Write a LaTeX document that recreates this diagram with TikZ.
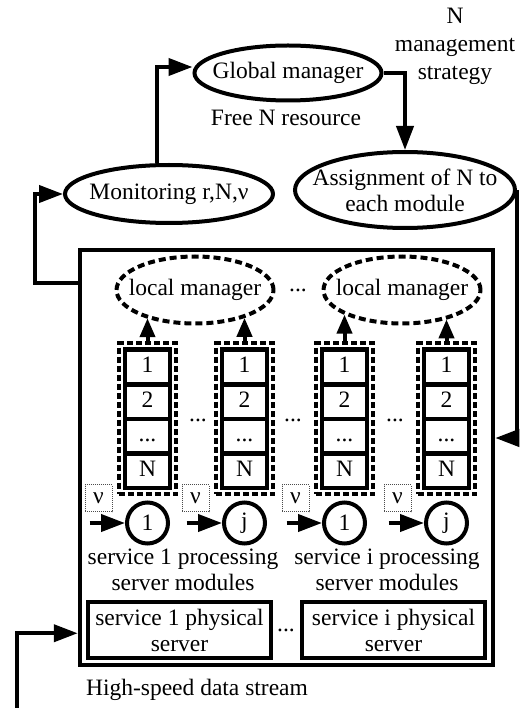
\documentclass[tikz,border=0pt]{standalone}
\usepackage{fontspec}
\setmainfont{Liberation Serif}
\usetikzlibrary{arrows.meta, positioning, shapes.geometric, fit}

\tikzset{
    manager/.style={ellipse, draw, line width=4pt, inner sep=-15pt, align=center},
    localmgr/.style={ellipse, draw, line width=4pt, dash pattern=on 7pt off 4pt,
        inner sep=-15pt, minimum width=157pt, minimum height=67pt},
    cell/.style={draw, line width=4.5pt, minimum width=45pt, minimum height=34.6pt,
        inner sep=0pt, text height=16pt, text depth=5pt},
    queue/.style={draw, line width=4pt, dash pattern=on 6pt off 3pt, inner sep=4pt},
    rate/.style={draw=black!70, densely dotted, line width=1pt, minimum size=27pt, inner sep=0pt},
    module/.style={circle, draw, line width=4pt, minimum size=41pt, inner sep=0pt},
    server/.style={draw, line width=4.5pt, minimum width=183pt, minimum height=56pt,
        align=center, inner sep=0pt},
    flow/.style={line width=4pt, -{Triangle[length=24pt,width=17pt]}},
    upflow/.style={line width=4pt, -{Triangle[length=19pt,width=15pt]}},
}

\begin{document}
\begin{tikzpicture}[x=1pt, y=-1pt, font=\fontsize{23.5}{26}\selectfont]
    \useasboundingbox (0,0) rectangle (521,708);

    % --- managers ---
    \node[manager, minimum width=187pt, minimum height=55pt] (global) at (288,73) {Global manager};
    \node[manager, minimum width=208pt, minimum height=58pt] (monitor) at (169,194) {Monitoring r,N,ν};
    \node[manager, minimum width=220pt, minimum height=76pt] (assign) at (405,190)
        {Assignment of N to\\each module};

    \node[align=center, font=\fontsize{23.5}{28}\selectfont] (strategy) at (455,46) {N\\management\\strategy};
    \node (free) at (286,118) {Free N resource};

    % --- system frame ---
    \node[draw, line width=4.5pt, minimum width=413pt, minimum height=415pt, inner sep=0pt]
        (sys) at (286.5,457.5) {};

    % --- local managers ---
    \node[localmgr] (lm1) at (195,290) {local manager};
    \node[localmgr] (lm2) at (402,290) {local manager};
    \node (lmdots) at (298,290) {...};

    % --- queues, rates, modules ---
    \foreach \cx/\lbl/\lm/\ang [count=\k] in {147.5/1/lm1/210, 244.5/j/lm1/331, 344.5/1/lm2/203, 446.5/j/lm2/327} {
        \node[cell] (c\k-1) at (\cx,367) {1};
        \node[cell] (c\k-2) at (\cx,401.6) {2};
        \node[cell] (c\k-3) at (\cx,436.2) {...};
        \node[cell] (c\k-4) at (\cx,470.8) {N};
        \node[queue, fit=(c\k-1) (c\k-4)] (f\k) {};
        \draw[upflow] (f\k.north) -- (f\k.north |- \lm.\ang);

        \node[module] (s\k) at (\cx,523) {\lbl};
        \node[rate] (v\k) at (\cx-49,498) {ν};
        \coordinate (in\k) at (\cx-58,523);
        \draw[flow] (in\k) -- (s\k);
    }
    \node (qdots1) at (198,420) {...};
    \node (qdots2) at (293,420) {...};
    \node (qdots3) at (395,420) {...};

    \node[align=center] (grp1) at (183,570) {service 1 processing\\server modules};
    \node[align=center] (grp2) at (387,570) {service i processing\\server modules};

    % --- physical servers ---
    \node[server] (phy1) at (179.5,630) {service 1 physical\\server};
    \node[server] (phy2) at (393.5,630) {service i physical\\server};
    \node (phydots) at (286,630) {...};

    % --- data stream ---
    \coordinate (stream) at (17,708);
    \draw[flow] (stream) |- ([yshift=34pt]sys.south west);
    \node (streamtxt) at (197,690) {High-speed data stream};

    % --- control loop ---
    \draw[flow] ([yshift=-35pt]sys.north west) -- ++(-43,0) |- (monitor.west);
    \draw[flow] ([xshift=-12pt]monitor.north) |- ([yshift=6pt]global.west);
    \draw[flow] (global.east) -| (assign.north);
    \draw[flow] (assign.east) |- ([yshift=19.5pt]sys.east);
\end{tikzpicture}
\end{document}
